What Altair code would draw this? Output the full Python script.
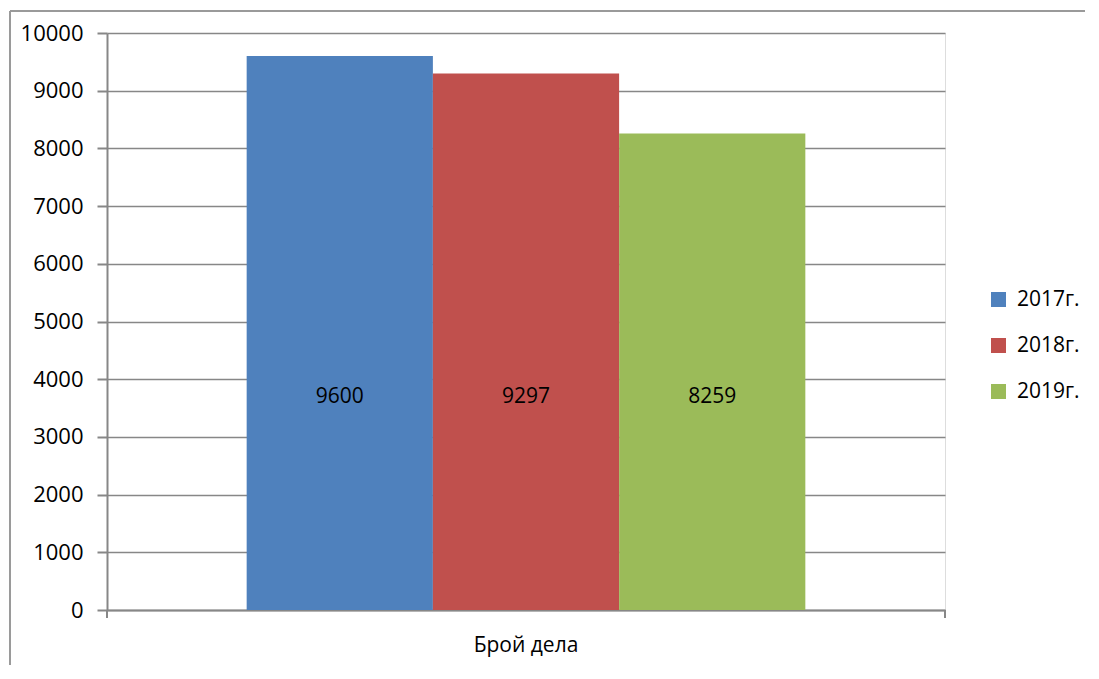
import altair as alt
import pandas as pd

category = "Брой дела"
years = ["2017г.", "2018г.", "2019г."]
values = [9600, 9297, 8259]
colors = ["#4F81BD", "#C0504D", "#9BBB59"]
y_ticks = [0, 1000, 2000, 3000, 4000, 5000, 6000, 7000, 8000, 9000, 10000]

FONT = "Open Sans"
GRAY = "#878787"

df = pd.DataFrame({"cat": [category] * len(years), "year": years, "value": values})
dummy = pd.DataFrame({"d": [0]})

x_enc = alt.X(
    "cat:N",
    scale=alt.Scale(paddingInner=0, paddingOuter=0.25),
    axis=alt.Axis(
        title=None, labelAngle=0, ticks=False, domainColor=GRAY, domainWidth=2,
        labelFontSize=21, labelFont=FONT, labelColor="black", labelPadding=24,
    ),
)
xoff_enc = alt.XOffset("year:N", scale=alt.Scale(domain=years, paddingInner=0, paddingOuter=0))

bars = alt.Chart(df).mark_bar().encode(
    x=x_enc,
    xOffset=xoff_enc,
    y=alt.Y(
        "value:Q",
        scale=alt.Scale(domain=[0, 10000], nice=False),
        axis=alt.Axis(
            title=None, values=y_ticks, format="d", tickSize=10, tickColor=GRAY, tickWidth=2,
            domainColor=GRAY, domainWidth=2, gridColor=GRAY, gridWidth=1.5,
            labelFontSize=22, labelFont=FONT, labelColor="black", labelPadding=14,
        ),
    ),
    color=alt.Color(
        "year:N",
        scale=alt.Scale(domain=years, range=colors),
        legend=alt.Legend(
            title=None, orient="none", legendX=881, legendY=256,
            symbolType="square", symbolSize=225, symbolStrokeWidth=0,
            labelFontSize=21, labelFont=FONT, labelColor="black",
            rowPadding=24, labelOffset=8,
        ),
    ),
)

labels = alt.Chart(df).mark_text(fontSize=21, font=FONT, color="black", baseline="middle").encode(
    x=alt.X("cat:N"),
    xOffset=alt.XOffset("year:N"),
    y=alt.datum(3690),
    text=alt.Text("value:Q"),
)

tick_left = alt.Chart(dummy).mark_rule(color=GRAY, strokeWidth=2).encode(
    x=alt.value(0), y=alt.value(577), y2=alt.value(585)
)
tick_right = alt.Chart(dummy).mark_rule(color=GRAY, strokeWidth=2).encode(
    x=alt.value(838), y=alt.value(577), y2=alt.value(585)
)
border_top = alt.Chart(dummy).mark_rule(color="#9a9a9a", strokeWidth=2).encode(
    x=alt.value(-97), x2=alt.value(978), y=alt.value(-22), y2=alt.value(-22)
)
border_left = alt.Chart(dummy).mark_rule(color="#9a9a9a", strokeWidth=2).encode(
    x=alt.value(-97), x2=alt.value(-97), y=alt.value(-22), y2=alt.value(632)
)

chart = alt.layer(border_top, border_left, bars, labels, tick_left, tick_right).properties(
    width=838, height=577,
    autosize=alt.AutoSizeParams(type="none"),
    padding={"left": 99, "top": 25, "right": 146, "bottom": 61},
).configure_view(stroke=None).configure(background="white")

chart.save("out.html", embed_options={"renderer": "svg", "actions": False})
